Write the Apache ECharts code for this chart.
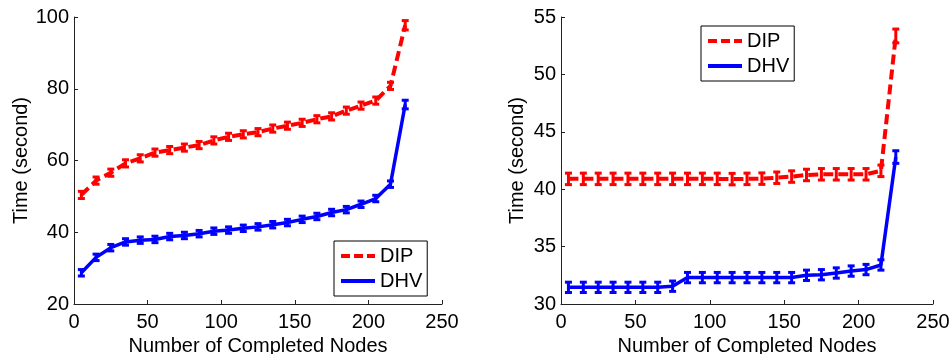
<!DOCTYPE html>
<html><head><meta charset="utf-8">
<script src="https://cdn.jsdelivr.net/npm/echarts@6/dist/echarts.min.js"></script>
<style>html,body{margin:0;padding:0;background:#fff}#c{width:952px;height:354px}</style>
</head><body><div id="c"></div>
<script>
const nodes = [5,15,25,35,45,55,65,75,85,95,105,115,125,135,145,155,165,175,185,195,205,215,225];
const xTicks = [0,50,100,150,200,250];

const leftDIP    = [50.4,54.4,56.6,59.2,60.6,62.2,62.9,63.6,64.3,65.6,66.6,67.3,67.9,68.9,69.7,70.5,71.5,72.3,73.9,75.3,76.7,80.8,97.7];
const leftDIPErr = [1.0,1.0,1.0,1.0,1.0,1.0,1.0,1.0,1.0,1.0,1.0,1.0,1.0,1.0,1.0,1.0,1.0,1.0,1.0,1.0,1.0,1.0,1.3];
const leftDHV    = [28.7,33.0,35.7,37.3,37.8,38.0,38.8,39.1,39.6,40.3,40.6,41.1,41.5,42.1,42.7,43.6,44.4,45.5,46.3,47.8,49.4,53.4,75.6];
const leftDHVErr = [0.9,0.9,0.9,0.9,0.9,0.9,0.9,0.9,0.9,0.9,0.9,0.9,0.9,0.9,0.9,0.9,0.9,0.9,0.9,0.9,0.9,0.9,1.2];

const rightDIP    = [40.9,40.9,40.9,40.9,40.9,40.9,40.9,40.9,40.9,40.9,40.9,40.88,40.9,40.92,41.0,41.1,41.24,41.3,41.3,41.3,41.3,41.6,53.35];
const rightDIPErr = [0.5,0.5,0.5,0.5,0.5,0.5,0.5,0.5,0.5,0.5,0.5,0.5,0.5,0.5,0.5,0.5,0.5,0.5,0.5,0.5,0.5,0.5,0.6];
const rightDHV    = [31.45,31.45,31.45,31.45,31.45,31.45,31.45,31.55,32.3,32.3,32.3,32.3,32.3,32.3,32.3,32.3,32.5,32.55,32.7,32.87,33.0,33.4,42.8];
const rightDHVErr = [0.45,0.45,0.45,0.45,0.45,0.45,0.45,0.45,0.45,0.45,0.45,0.45,0.45,0.45,0.45,0.45,0.45,0.45,0.45,0.45,0.45,0.45,0.55];

const leftYTicks = [20,40,60,80,100];
const rightYTicks = [30,35,40,45,50,55];

const FONT = "'Liberation Sans', Arial, Helvetica, sans-serif";
const FS = 20;
const RED = '#ff0000', BLUE = '#0000ff';

function pairs(vals){ return nodes.map((x,i)=>[x, vals[i]]); }
function errData(vals, errs){ return nodes.map((x,i)=>[x, vals[i]-errs[i], vals[i]+errs[i]]); }
function errRender(color){
  return function(params, api){
    const x = api.value(0), lo = api.value(1), hi = api.value(2);
    const a = api.coord([x, hi]), b = api.coord([x, lo]);
    const w = 3.5, st = {stroke: color, lineWidth: 3};
    return {type:'group', children:[
      {type:'line', shape:{x1:a[0], y1:a[1], x2:b[0], y2:b[1]}, style: st},
      {type:'line', shape:{x1:a[0]-w, y1:a[1], x2:a[0]+w, y2:a[1]}, style: st},
      {type:'line', shape:{x1:b[0]-w, y1:b[1], x2:b[0]+w, y2:b[1]}, style: st}
    ]};
  };
}

function xAxis(gi){
  return {
    type:'value', gridIndex:gi, min:0, max:250, interval:50,
    name:'Number of Completed Nodes', nameLocation:'middle', nameGap:29,
    nameTextStyle:{fontSize:FS, color:'#000', fontFamily:FONT},
    axisLine:{show:true, lineStyle:{color:'#222', width:1}},
    axisTick:{show:true, inside:true, length:4, lineStyle:{color:'#222'}},
    axisLabel:{fontSize:FS, color:'#000', fontFamily:FONT, margin:8,
      formatter: v => xTicks.includes(v) ? String(v) : ''},
    splitLine:{show:false}
  };
}
function yAxis(gi, min, max, interval, ticks, gap){
  return {
    type:'value', gridIndex:gi, min:min, max:max, interval:interval,
    name:'Time (second)', nameLocation:'middle', nameGap:gap, nameRotate:90,
    nameTextStyle:{fontSize:FS, color:'#000', fontFamily:FONT},
    axisLine:{show:true, lineStyle:{color:'#222', width:1}},
    axisTick:{show:true, inside:true, length:4, lineStyle:{color:'#222'}},
    axisLabel:{fontSize:FS, color:'#000', fontFamily:FONT, margin:5,
      formatter: v => ticks.includes(v) ? String(v) : ''},
    splitLine:{show:false}
  };
}
const DASH_ICON = 'path://M0,0h9v4h-9z M13,0h9v4h-9z M26,0h8v4h-8z';
const SOLID_ICON = 'path://M0,0h34v4h-34z';
function legend(left, top){
  return {
    data:[{name:'DIP', icon:DASH_ICON},{name:'DHV', icon:SOLID_ICON}],
    orient:'vertical', left:left, top:top,
    itemWidth:34, itemHeight:4, itemGap:3, symbolKeepAspect:false,
    itemStyle:{borderWidth:0},
    padding:[4,5,4,7], borderColor:'#000', borderWidth:1, backgroundColor:'#fff',
    textStyle:{fontSize:FS, color:'#000', fontFamily:FONT, lineHeight:22},
    selectedMode:false
  };
}
function lineSeries(name, gi, vals, color, dashed){
  return {
    name:name, type:'line', xAxisIndex:gi, yAxisIndex:gi, data:pairs(vals),
    symbol:'none', showSymbol:false, z:3,
    lineStyle:{color:color, width: dashed ? 4 : 3.5, type: dashed ? [10,5] : 'solid'},
    itemStyle:{color:color}
  };
}
function errSeries(name, gi, vals, errs, color){
  return {
    name:name, type:'custom', xAxisIndex:gi, yAxisIndex:gi, silent:true, z:4,
    renderItem: errRender(color), data: errData(vals, errs)
  };
}

const chart = echarts.init(document.getElementById('c'), null, {renderer:'canvas'});
chart.setOption({
  animation:false,
  backgroundColor:'#fff',
  grid:[
    {left:74, right:510, top:17, bottom:50, containLabel:false, outerBoundsMode:'none'},
    {left:561, right:19, top:17, bottom:50, containLabel:false, outerBoundsMode:'none'}
  ],
  xAxis:[xAxis(0), xAxis(1)],
  yAxis:[yAxis(0,20,100,20,leftYTicks,43), yAxis(1,30,55,5,rightYTicks,34)],
  legend:[legend(334,241), legend(701,26)],
  series:[
    lineSeries('DIP',0,leftDIP,RED,true),
    lineSeries('DHV',0,leftDHV,BLUE,false),
    errSeries('DIP err L',0,leftDIP,leftDIPErr,RED),
    errSeries('DHV err L',0,leftDHV,leftDHVErr,BLUE),
    lineSeries('DIP',1,rightDIP,RED,true),
    lineSeries('DHV',1,rightDHV,BLUE,false),
    errSeries('DIP err R',1,rightDIP,rightDIPErr,RED),
    errSeries('DHV err R',1,rightDHV,rightDHVErr,BLUE)
  ]
});
</script></body></html>
